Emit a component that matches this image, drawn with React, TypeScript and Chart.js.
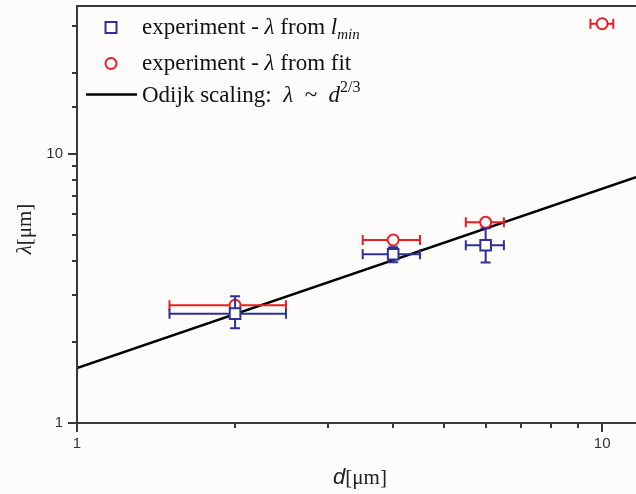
import React, { useEffect, useRef } from 'react';
import { Chart, registerables } from 'chart.js';

Chart.register(...registerables);

// ---- data ----
const blueX = [2, 4, 6];
const blueY = [2.55, 4.24, 4.58];
const blueXLo = [1.5, 3.5, 5.5];
const blueXHi = [2.5, 4.5, 6.5];
const blueYLo = [2.25, 3.96, 3.95];
const blueYHi = [2.96, 4.5, 5.3];

const redX = [2, 4, 6, 10];
const redY = [2.74, 4.79, 5.57, 30.5];
const redXLo = [1.5, 3.5, 5.5, 9.5];
const redXHi = [2.5, 4.5, 6.5, 10.5];

const fitX = [1, 11.6];
const fitY = [1.6, 8.2];

const xTickLabels = [1, 10];
const yTickLabels = [1, 10];

const BLUE = '#2e3192';
const RED = '#ec1c24';
const AXIS = '#383838';
const SERIF = '"Liberation Serif", "DejaVu Serif", serif';
const SANS = '"Liberation Sans", Arial, sans-serif';

type Run = { text: string; font: string; dy?: number };

function measureRuns(ctx: CanvasRenderingContext2D, runs: Run[]) {
  let w = 0;
  for (const r of runs) {
    ctx.font = r.font;
    w += ctx.measureText(r.text).width;
  }
  return w;
}

function drawRuns(ctx: CanvasRenderingContext2D, x: number, y: number, runs: Run[]) {
  let cx = x;
  for (const r of runs) {
    ctx.font = r.font;
    ctx.fillText(r.text, cx, y + (r.dy || 0));
    cx += ctx.measureText(r.text).width;
  }
}

const errorBars: Record<string, { x: number[]; y: number[]; xl: number[]; xh: number[]; yl?: number[]; yh?: number[]; color: string }> = {
  blue: { x: blueX, y: blueY, xl: blueXLo, xh: blueXHi, yl: blueYLo, yh: blueYHi, color: BLUE },
  red: { x: redX, y: redY, xl: redXLo, xh: redXHi, color: RED },
};

const customPlugin = {
  id: 'customDecor',
  beforeDraw(chart: any) {
    const ctx = chart.ctx;
    ctx.save();
    ctx.fillStyle = '#fdfcfb';
    ctx.fillRect(0, 0, chart.width, chart.height);
    ctx.restore();
  },
  beforeDatasetDraw(chart: any, args: any) {
    const ds = chart.data.datasets[args.index];
    const eb = errorBars[ds.label];
    if (!eb) return;
    const xs = chart.scales.x;
    const ys = chart.scales.y;
    const ctx = chart.ctx;
    ctx.save();
    ctx.strokeStyle = eb.color;
    ctx.lineWidth = 2;
    const cap = 5;
    for (let i = 0; i < eb.x.length; i++) {
      const py = ys.getPixelForValue(eb.y[i]);
      const px = xs.getPixelForValue(eb.x[i]);
      const x1 = xs.getPixelForValue(eb.xl[i]);
      const x2 = xs.getPixelForValue(eb.xh[i]);
      ctx.beginPath();
      ctx.moveTo(x1, py); ctx.lineTo(x2, py);
      ctx.moveTo(x1, py - cap); ctx.lineTo(x1, py + cap);
      ctx.moveTo(x2, py - cap); ctx.lineTo(x2, py + cap);
      if (eb.yl && eb.yh) {
        const y1 = ys.getPixelForValue(eb.yl[i]);
        const y2 = ys.getPixelForValue(eb.yh[i]);
        ctx.moveTo(px, y1); ctx.lineTo(px, y2);
        ctx.moveTo(px - cap, y1); ctx.lineTo(px + cap, y1);
        ctx.moveTo(px - cap, y2); ctx.lineTo(px + cap, y2);
      }
      ctx.stroke();
    }
    ctx.restore();
  },
  afterDraw(chart: any) {
    const ctx: CanvasRenderingContext2D = chart.ctx;
    const a = chart.chartArea;
    const xs = chart.scales.x;
    const ys = chart.scales.y;
    ctx.save();
    // frame
    ctx.strokeStyle = AXIS;
    ctx.lineWidth = 2;
    ctx.beginPath();
    ctx.moveTo(chart.width, a.top);
    ctx.lineTo(a.left, a.top);
    ctx.lineTo(a.left, a.bottom);
    ctx.lineTo(chart.width, a.bottom);
    ctx.stroke();
    // ticks
    ctx.lineWidth = 2;
    ctx.beginPath();
    for (const t of xs.ticks) {
      const v = t.value;
      if (!Number.isInteger(v) || v < xs.min || v > xs.max) continue;
      const major = Math.abs(Math.log10(v) - Math.round(Math.log10(v))) < 1e-9;
      const px = Math.round(xs.getPixelForValue(v));
      ctx.moveTo(px, a.bottom);
      ctx.lineTo(px, a.bottom + (major ? 9 : 5));
    }
    for (const t of ys.ticks) {
      const v = t.value;
      if (!Number.isInteger(v) || v < ys.min || v > ys.max) continue;
      const major = Math.abs(Math.log10(v) - Math.round(Math.log10(v))) < 1e-9;
      const py = Math.round(ys.getPixelForValue(v));
      ctx.moveTo(a.left, py);
      ctx.lineTo(a.left - (major ? 9 : 5), py);
    }
    ctx.stroke();

    // tick labels
    ctx.fillStyle = '#333';
    ctx.font = `15px ${SANS}`;
    ctx.textAlign = 'center';
    ctx.textBaseline = 'middle';
    for (const v of xTickLabels) {
      ctx.fillText(String(v), xs.getPixelForValue(v), a.bottom + 21);
    }
    ctx.textAlign = 'right';
    for (const v of yTickLabels) {
      ctx.fillText(String(v), a.left - 14, ys.getPixelForValue(v));
    }
    ctx.textAlign = 'left';

    // axis titles
    ctx.fillStyle = '#222';
    ctx.textBaseline = 'alphabetic';
    const xRuns: Run[] = [
      { text: 'd', font: `italic 22px ${SANS}` },
      { text: '[\u03bcm]', font: `21px ${SERIF}` },
    ];
    const xw = measureRuns(ctx, xRuns);
    drawRuns(ctx, 360 - xw / 2, 484, xRuns);

    const yRuns: Run[] = [
      { text: '\u03bb', font: `italic 21px ${SERIF}` },
      { text: '[\u03bcm]', font: `21px ${SERIF}` },
    ];
    const yw = measureRuns(ctx, yRuns);
    ctx.save();
    ctx.translate(31, 229);
    ctx.rotate(-Math.PI / 2);
    drawRuns(ctx, -yw / 2, 0, yRuns);
    ctx.restore();

    // legend
    const lx = 111;
    ctx.lineWidth = 2;
    ctx.strokeStyle = BLUE;
    ctx.fillStyle = '#fff';
    ctx.fillRect(lx - 5.5, 22, 11, 11);
    ctx.strokeRect(lx - 5.5, 22, 11, 11);
    ctx.strokeStyle = RED;
    ctx.beginPath();
    ctx.arc(lx, 63.5, 5.5, 0, Math.PI * 2);
    ctx.fill();
    ctx.stroke();
    ctx.strokeStyle = '#000';
    ctx.lineWidth = 2.5;
    ctx.beginPath();
    ctx.moveTo(86, 94.5);
    ctx.lineTo(137, 94.5);
    ctx.stroke();

    ctx.fillStyle = '#111';
    const fs = 23;
    const N = `${fs}px ${SERIF}`;
    const I = `italic ${fs}px ${SERIF}`;
    const S = `italic 15px ${SERIF}`;
    drawRuns(ctx, 142, 34, [
      { text: 'experiment - ', font: N },
      { text: '\u03bb', font: I },
      { text: ' from ', font: N },
      { text: 'l', font: I },
      { text: 'min', font: S, dy: 5 },
    ]);
    drawRuns(ctx, 142, 70, [
      { text: 'experiment - ', font: N },
      { text: '\u03bb', font: I },
      { text: ' from fit', font: N },
    ]);
    drawRuns(ctx, 142, 102, [
      { text: 'Odijk scaling:  ', font: N },
      { text: '\u03bb', font: I },
      { text: '  ~  ', font: N },
      { text: 'd', font: I },
      { text: '2/3', font: `16px ${SERIF}`, dy: -10 },
    ]);
    ctx.restore();
  },
};

export default function App() {
  const ref = useRef<HTMLCanvasElement | null>(null);
  useEffect(() => {
    if (!ref.current) return;
    const chart = new Chart(ref.current, {
      type: 'scatter',
      data: {
        datasets: [
          {
            label: 'fit',
            data: fitX.map((x, i) => ({ x, y: fitY[i] })),
            showLine: true,
            borderColor: '#000',
            borderWidth: 2.5,
            pointRadius: 0,
            order: 3,
          } as any,
          {
            label: 'red',
            data: redX.map((x, i) => ({ x, y: redY[i] })),
            pointStyle: 'circle',
            pointRadius: 5.5,
            pointBorderWidth: 2,
            pointBorderColor: RED,
            pointBackgroundColor: '#fff',
            borderColor: RED,
            backgroundColor: '#fff',
            order: 2,
          } as any,
          {
            label: 'blue',
            data: blueX.map((x, i) => ({ x, y: blueY[i] })),
            pointStyle: 'rect',
            pointRadius: 7.5,
            pointBorderWidth: 2,
            pointBorderColor: BLUE,
            pointBackgroundColor: '#fff',
            borderColor: BLUE,
            backgroundColor: '#fff',
            order: 1,
          } as any,
        ],
      },
      options: {
        responsive: false,
        animation: false,
        layout: { autoPadding: false, padding: { top: 6, right: 0, left: 0, bottom: 0 } },
        plugins: { legend: { display: false }, tooltip: { enabled: false } },
        scales: {
          x: {
            type: 'logarithmic',
            min: 1,
            max: 11.6,
            grid: { display: false, drawTicks: false },
            border: { display: false },
            ticks: { display: false, autoSkip: false },
            afterFit: (s: any) => { s.height = 71; },
          },
          y: {
            type: 'logarithmic',
            min: 1,
            max: 35.5,
            grid: { display: false, drawTicks: false },
            border: { display: false },
            ticks: { display: false, autoSkip: false },
            afterFit: (s: any) => { s.width = 77; },
          },
        },
      } as any,
      plugins: [customPlugin],
    });
    return () => chart.destroy();
  }, []);
  return (
    <canvas
      ref={ref}
      width={636}
      height={494}
      style={{ position: 'absolute', left: 0, top: 0, display: 'block' }}
    />
  );
}
